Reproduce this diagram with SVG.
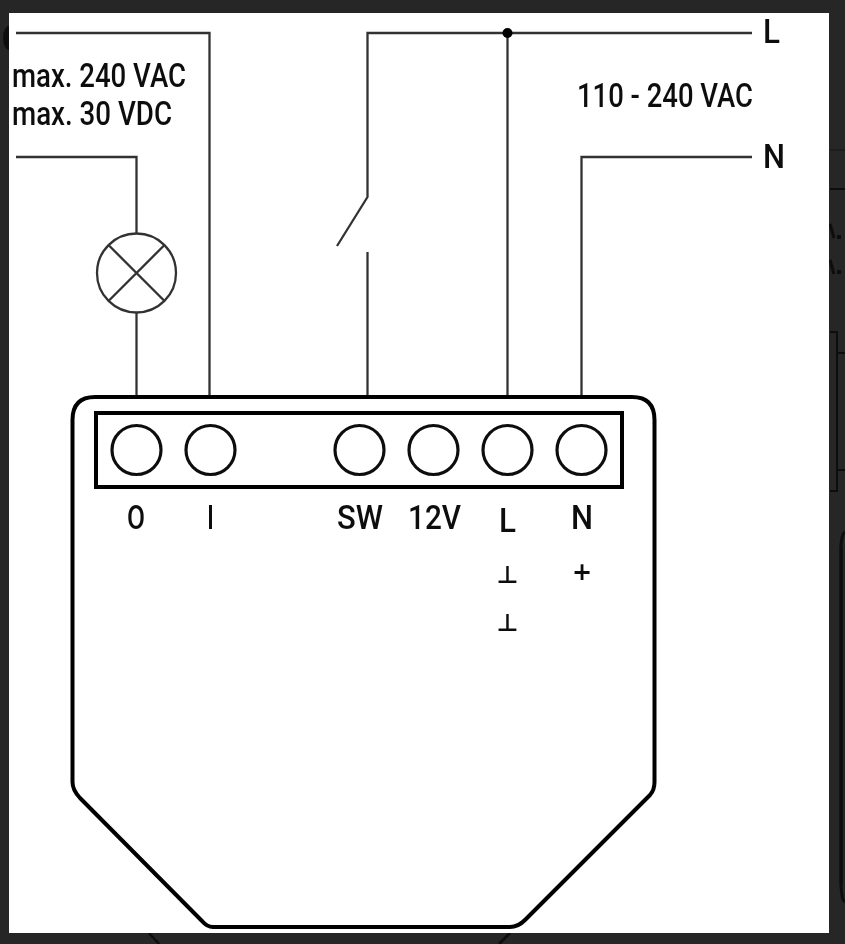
<svg xmlns="http://www.w3.org/2000/svg" width="845" height="944" viewBox="0 0 845 944">
<defs><filter id="soft" x="0" y="0" width="100%" height="100%"><feGaussianBlur stdDeviation="0.5"/></filter></defs>
<style>
.w{fill:none;stroke:#333;stroke-width:2.3}
.b{fill:none;stroke:#000;stroke-width:4;stroke-linejoin:round}
.p{fill:#fff;stroke:#111;stroke-width:3.2}
.t{font-family:"Roboto","Liberation Sans",sans-serif;fill:#111;font-size:33px;font-weight:500}
.s{font-family:"DejaVu Sans",sans-serif;fill:#111;text-anchor:middle}
.e{fill:none;stroke:#111;stroke-width:2}
</style>
<rect width="845" height="944" fill="#262626"/>
<g filter="url(#soft)">
<g id="edge-remnants">
<path class="e" d="M830 189H845M830 332H837V491H830M837 353H845M837 470H845"/>
<path d="M830 150H845" fill="none" stroke="#1e1e1e" stroke-width="1.5"/>
<path d="M149 933L159 944M510 933L499 944" fill="none" stroke="#0c0c0c" stroke-width="2.5"/>
<path d="M845 532Q841 534 841 550V880Q841 900 845 902" fill="none" stroke="#0c0c0c" stroke-width="3"/>
<ellipse cx="9" cy="38" rx="6" ry="12" fill="#0c0c0c"/>
<path d="M830 224L834 238M830 260L834 274" fill="none" stroke="#0c0c0c" stroke-width="3"/>
<rect x="837" y="235" width="4" height="4" fill="#0c0c0c"/>
<rect x="837" y="270" width="4" height="4" fill="#0c0c0c"/>
</g>
<rect id="sheet" x="9" y="13" width="820" height="920" fill="#fff"/>
<g id="connectors">
<path class="w" d="M16 33H209.5V396"/>
<path class="w" d="M16 157H136.5V233"/>
<path class="w" d="M136.5 312V396"/>
<path class="w" d="M752 33H367.5V197L337 246"/>
<path class="w" d="M367.5 252V396"/>
<path class="w" d="M507.5 33V396"/>
<path class="w" d="M581.5 396V157H752"/>
</g>
<g id="junction"><circle cx="507.5" cy="33" r="5" fill="#000"/></g>
<g id="lamp">
<circle class="w" cx="136.5" cy="273" r="39.5"/>
<path class="w" d="M108.5 245L164.5 301M164.5 245L108.5 301"/>
</g>
<g id="device">
<path class="b" d="M72.5 420Q72.5 397 95 397H632Q654.5 397 654.5 420V782Q654.5 790 650 795L525 920Q518 927 510 927H213Q207 927 202 921L80 798Q72.5 790 72.5 782Z"/>
<rect x="96" y="413" width="526" height="74" fill="none" stroke="#000" stroke-width="4"/>
</g>
<g id="terminal-O"><circle class="p" cx="136.5" cy="450" r="24.5"/><text class="t" x="127" y="529" textLength="18" lengthAdjust="spacingAndGlyphs">O</text></g>
<g id="terminal-I"><circle class="p" cx="210.5" cy="450" r="24.5"/><text class="t" x="207" y="529" textLength="7" lengthAdjust="spacingAndGlyphs">I</text></g>
<g id="terminal-SW"><circle class="p" cx="359.5" cy="450" r="24.5"/><text class="t" x="337" y="529" textLength="46" lengthAdjust="spacingAndGlyphs">SW</text></g>
<g id="terminal-12V"><circle class="p" cx="433.5" cy="450" r="24.5"/><text class="t" x="408" y="529" textLength="53" lengthAdjust="spacingAndGlyphs">12V</text></g>
<g id="terminal-L"><circle class="p" cx="507.5" cy="450" r="24.5"/><text class="t" x="499" y="532" textLength="17" lengthAdjust="spacingAndGlyphs">L</text></g>
<g id="terminal-N"><circle class="p" cx="581.5" cy="450" r="24.5"/><text class="t" x="571" y="529" textLength="22" lengthAdjust="spacingAndGlyphs">N</text></g>
<g id="symbols">
<text class="s" x="507.5" y="583" font-size="24" font-weight="bold">⊥</text>
<text class="s" x="507.5" y="631" font-size="24" font-weight="bold">⊥</text>
<text class="s" x="582" y="580" font-size="24" font-weight="bold">+</text>
</g>
<g id="labels">
<text class="t" x="12" y="87" textLength="174" lengthAdjust="spacingAndGlyphs">max. 240 VAC</text>
<text class="t" x="12" y="125" textLength="160" lengthAdjust="spacingAndGlyphs">max. 30 VDC</text>
<text class="t" x="577" y="107" textLength="176" lengthAdjust="spacingAndGlyphs">110 - 240 VAC</text>
<text class="t" x="763" y="43" textLength="17" lengthAdjust="spacingAndGlyphs">L</text>
<text class="t" x="763" y="168" textLength="22" lengthAdjust="spacingAndGlyphs">N</text>
</g>
</g>
</svg>
